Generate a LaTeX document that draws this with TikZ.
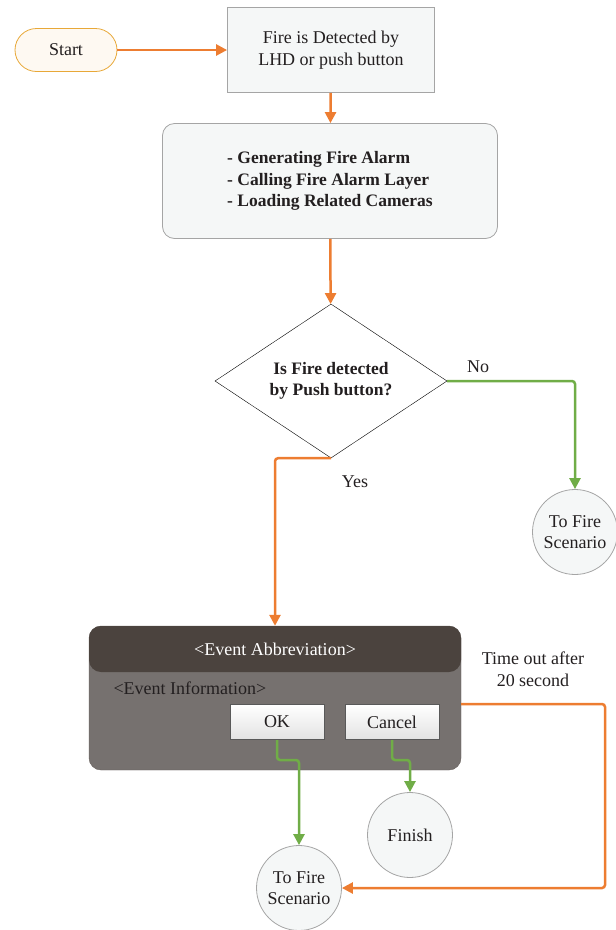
\documentclass[tikz,border=0pt]{standalone}
\usepackage{fontspec}
\setmainfont{Liberation Serif}
\usepackage{xcolor}
\usepackage{tikz}
\usetikzlibrary{shapes.geometric, arrows.meta, positioning, calc}
\definecolor{flowor}{RGB}{237, 125, 49}
\definecolor{flowgr}{RGB}{112, 173, 71}
\definecolor{startedge}{RGB}{232, 168, 56}
\definecolor{startfill}{RGB}{254, 249, 242}
\definecolor{boxfill}{RGB}{245, 247, 247}
\definecolor{boxedge}{RGB}{165, 165, 165}
\definecolor{dlghead}{RGB}{75, 67, 62}
\definecolor{dlgbody}{RGB}{118, 113, 111}
\definecolor{txt}{RGB}{35, 31, 32}

\begin{document}
\begin{tikzpicture}[x=1pt, y=-1pt,
    every node/.style={font=\fontsize{18}{21.5}\selectfont, text=txt},
    terminal/.style={rectangle, rounded corners=21.5pt, draw=startedge, fill=startfill, thick, minimum width=102pt, minimum height=43pt},
    process/.style={rectangle, draw=boxedge, fill=boxfill, thick, align=center},
    decision/.style={diamond, shape aspect=1.5, draw=black, fill=white, align=center, font=\bfseries\fontsize{17.5}{21.5}\selectfont, minimum width=232pt, minimum height=154pt, inner sep=1pt},
    connector/.style={circle, draw=boxedge, fill=boxfill, thick, minimum size=85pt, inner sep=0pt, align=center},
    button/.style={rectangle, draw=black!65, line width=1pt, top color=white, bottom color=gray!22, minimum width=94pt, minimum height=35pt, inner sep=0pt},
    oline/.style={draw=flowor, line width=2.5pt, rounded corners=3pt, -{Triangle[length=11pt, width=11pt]}},
    gline/.style={draw=flowgr, line width=2.5pt, rounded corners=3pt, -{Triangle[length=11pt, width=11pt]}}
]
    \useasboundingbox (0,0) rectangle (616,930);

    % Flow boxes
    \node[terminal] (start) at (66,50) {Start};
    \node[process, minimum width=207pt, minimum height=85pt] (detect) at (331,50) {Fire is Detected by\\LHD or push button};
    \node[process, rounded corners=12pt, minimum width=335pt, minimum height=115pt, align=left, font=\bfseries\fontsize{17.5}{21.5}\selectfont] (tasks) at (330,181) {- Generating Fire Alarm\\- Calling Fire Alarm Layer\\- Loading Related Cameras};
    \node[decision] (query) at (331,381) {Is Fire detected\\by Push button?};
    \node[connector] (scenA) at (575,532) {To Fire\\Scenario};

    % Event dialog
    \node[rectangle, rounded corners=12pt, fill=dlgbody, draw=dlghead!85, minimum width=372pt, minimum height=144pt] (dialog) at (275,698) {};
    \node[rectangle, rounded corners=12pt, fill=dlghead, minimum width=372pt, minimum height=46pt, text=white] (header) at (275,649) {<Event Abbreviation>};
    \node[anchor=west] (info) at (110,688) {<Event Information>};
    \node[button] (ok) at (277,722) {OK};
    \node[button] (cancel) at (392,722) {Cancel};

    % End points
    \node[connector] (finish) at (410,835) {Finish};
    \node[connector] (scenB) at (299,888) {To Fire\\Scenario};
    \coordinate (turn) at (605,800);

    % Labels
    \node (no) at (478,367) {No};
    \node (yes) at (355,482) {Yes};
    \node[align=center] (timeout) at (533,669) {Time out after\\20 second};

    % Connectors
    \draw[oline] (start) -- (detect);
    \draw[oline] (detect) -- (tasks);
    \draw[oline] (tasks) -- (query);
    \draw[gline] (query.east) -| (scenA);
    \draw[oline] (query.south) -| (dialog.north);
    \draw[gline] (ok.south) -- ++(0,20) -| (scenB);
    \draw[gline] (cancel.south) -- ++(0,20) -| (finish);
    \draw[oline] ([yshift=-6pt]dialog.east) -| (turn) |- (scenB);
\end{tikzpicture}
\end{document}
